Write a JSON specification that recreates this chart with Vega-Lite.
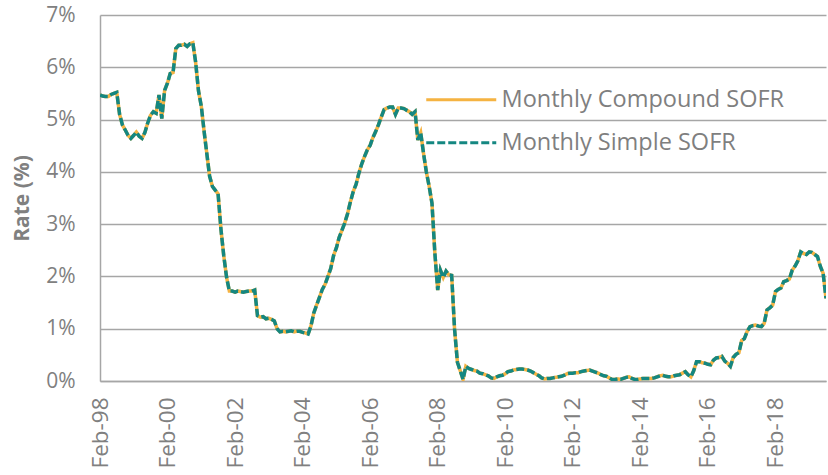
{
  "$schema": "https://vega.github.io/schema/vega-lite/v6.json",
  "width": 726,
  "height": 366,
  "autosize": {"type": "none"},
  "padding": {"left": 100, "top": 15, "right": 2, "bottom": 94},
  "background": "white",
  "config": {
    "font": "Open Sans",
    "view": {"stroke": null},
    "axis": {"labelFont": "Open Sans", "titleFont": "Open Sans"}
  },
  "data": {"values": [
    {"d":"1998-02-01","r":5.47},{"d":"1998-03-01","r":5.45},{"d":"1998-04-01","r":5.44},{"d":"1998-05-01","r":5.44},{"d":"1998-06-01","r":5.48},{"d":"1998-07-01","r":5.50},{"d":"1998-08-01","r":5.52},{"d":"1998-09-01","r":5.10},{"d":"1998-10-01","r":4.90},{"d":"1998-11-01","r":4.80},{"d":"1998-12-01","r":4.70},
    {"d":"1999-01-01","r":4.64},{"d":"1999-02-01","r":4.70},{"d":"1999-03-01","r":4.76},{"d":"1999-04-01","r":4.68},{"d":"1999-05-01","r":4.64},{"d":"1999-06-01","r":4.75},{"d":"1999-07-01","r":4.93},{"d":"1999-08-01","r":5.08},{"d":"1999-09-01","r":5.15},{"d":"1999-10-01","r":5.12},{"d":"1999-11-01","r":5.47},{"d":"1999-12-01","r":5.02},
    {"d":"2000-01-01","r":5.56},{"d":"2000-02-01","r":5.70},{"d":"2000-03-01","r":5.88},{"d":"2000-04-01","r":5.90},{"d":"2000-05-01","r":6.36},{"d":"2000-06-01","r":6.42},{"d":"2000-07-01","r":6.42},{"d":"2000-08-01","r":6.44},{"d":"2000-09-01","r":6.40},{"d":"2000-10-01","r":6.45},{"d":"2000-11-01","r":6.47},{"d":"2000-12-01","r":6.10},
    {"d":"2001-01-01","r":5.55},{"d":"2001-02-01","r":5.25},{"d":"2001-03-01","r":4.80},{"d":"2001-04-01","r":4.35},{"d":"2001-05-01","r":3.92},{"d":"2001-06-01","r":3.72},{"d":"2001-07-01","r":3.65},{"d":"2001-08-01","r":3.58},{"d":"2001-09-01","r":2.90},{"d":"2001-10-01","r":2.40},{"d":"2001-11-01","r":1.98},{"d":"2001-12-01","r":1.72},
    {"d":"2002-01-01","r":1.72},{"d":"2002-02-01","r":1.70},{"d":"2002-03-01","r":1.72},{"d":"2002-04-01","r":1.71},{"d":"2002-05-01","r":1.70},{"d":"2002-06-01","r":1.71},{"d":"2002-07-01","r":1.72},{"d":"2002-08-01","r":1.72},{"d":"2002-09-01","r":1.74},{"d":"2002-10-01","r":1.25},{"d":"2002-11-01","r":1.22},{"d":"2002-12-01","r":1.23},
    {"d":"2003-01-01","r":1.19},{"d":"2003-02-01","r":1.20},{"d":"2003-03-01","r":1.18},{"d":"2003-04-01","r":1.15},{"d":"2003-05-01","r":1.00},{"d":"2003-06-01","r":0.94},{"d":"2003-07-01","r":0.95},{"d":"2003-08-01","r":0.94},{"d":"2003-09-01","r":0.95},{"d":"2003-10-01","r":0.96},{"d":"2003-11-01","r":0.94},{"d":"2003-12-01","r":0.95},
    {"d":"2004-01-01","r":0.95},{"d":"2004-02-01","r":0.93},{"d":"2004-03-01","r":0.92},{"d":"2004-04-01","r":0.90},{"d":"2004-05-01","r":1.05},{"d":"2004-06-01","r":1.30},{"d":"2004-07-01","r":1.45},{"d":"2004-08-01","r":1.60},{"d":"2004-09-01","r":1.75},{"d":"2004-10-01","r":1.85},{"d":"2004-11-01","r":2.00},{"d":"2004-12-01","r":2.15},
    {"d":"2005-01-01","r":2.40},{"d":"2005-02-01","r":2.55},{"d":"2005-03-01","r":2.74},{"d":"2005-04-01","r":2.88},{"d":"2005-05-01","r":3.02},{"d":"2005-06-01","r":3.20},{"d":"2005-07-01","r":3.42},{"d":"2005-08-01","r":3.62},{"d":"2005-09-01","r":3.76},{"d":"2005-10-01","r":3.97},{"d":"2005-11-01","r":4.15},{"d":"2005-12-01","r":4.29},
    {"d":"2006-01-01","r":4.42},{"d":"2006-02-01","r":4.51},{"d":"2006-03-01","r":4.65},{"d":"2006-04-01","r":4.77},{"d":"2006-05-01","r":4.90},{"d":"2006-06-01","r":5.05},{"d":"2006-07-01","r":5.19},{"d":"2006-08-01","r":5.22},{"d":"2006-09-01","r":5.24},{"d":"2006-10-01","r":5.24},{"d":"2006-11-01","r":5.10},{"d":"2006-12-01","r":5.22},
    {"d":"2007-01-01","r":5.22},{"d":"2007-02-01","r":5.21},{"d":"2007-03-01","r":5.18},{"d":"2007-04-01","r":5.15},{"d":"2007-05-01","r":5.10},{"d":"2007-06-01","r":5.15},{"d":"2007-07-01","r":4.61},{"d":"2007-08-01","r":4.75},{"d":"2007-09-01","r":4.35},{"d":"2007-10-01","r":4.00},{"d":"2007-11-01","r":3.72},{"d":"2007-12-01","r":3.40},
    {"d":"2008-01-01","r":2.45},{"d":"2008-02-01","r":1.74},{"d":"2008-03-01","r":2.12},{"d":"2008-04-01","r":1.98},{"d":"2008-05-01","r":2.10},{"d":"2008-06-01","r":2.03},{"d":"2008-07-01","r":2.02},{"d":"2008-08-01","r":1.00},{"d":"2008-09-01","r":0.36},{"d":"2008-10-01","r":0.20},{"d":"2008-11-01","r":0.03},{"d":"2008-12-01","r":0.28},
    {"d":"2009-01-01","r":0.24},{"d":"2009-02-01","r":0.22},{"d":"2009-03-01","r":0.20},{"d":"2009-04-01","r":0.19},{"d":"2009-05-01","r":0.15},{"d":"2009-06-01","r":0.14},{"d":"2009-07-01","r":0.12},{"d":"2009-08-01","r":0.10},{"d":"2009-09-01","r":0.06},{"d":"2009-10-01","r":0.05},{"d":"2009-11-01","r":0.08},{"d":"2009-12-01","r":0.10},
    {"d":"2010-01-01","r":0.11},{"d":"2010-02-01","r":0.14},{"d":"2010-03-01","r":0.18},{"d":"2010-04-01","r":0.19},{"d":"2010-05-01","r":0.21},{"d":"2010-06-01","r":0.22},{"d":"2010-07-01","r":0.23},{"d":"2010-08-01","r":0.23},{"d":"2010-09-01","r":0.22},{"d":"2010-10-01","r":0.21},{"d":"2010-11-01","r":0.19},{"d":"2010-12-01","r":0.16},
    {"d":"2011-01-01","r":0.13},{"d":"2011-02-01","r":0.10},{"d":"2011-03-01","r":0.06},{"d":"2011-04-01","r":0.04},{"d":"2011-05-01","r":0.05},{"d":"2011-06-01","r":0.05},{"d":"2011-07-01","r":0.06},{"d":"2011-08-01","r":0.07},{"d":"2011-09-01","r":0.08},{"d":"2011-10-01","r":0.09},{"d":"2011-11-01","r":0.11},{"d":"2011-12-01","r":0.14},
    {"d":"2012-01-01","r":0.15},{"d":"2012-02-01","r":0.15},{"d":"2012-03-01","r":0.16},{"d":"2012-04-01","r":0.16},{"d":"2012-05-01","r":0.18},{"d":"2012-06-01","r":0.19},{"d":"2012-07-01","r":0.20},{"d":"2012-08-01","r":0.21},{"d":"2012-09-01","r":0.19},{"d":"2012-10-01","r":0.17},{"d":"2012-11-01","r":0.15},{"d":"2012-12-01","r":0.12},
    {"d":"2013-01-01","r":0.10},{"d":"2013-02-01","r":0.09},{"d":"2013-03-01","r":0.06},{"d":"2013-04-01","r":0.03},{"d":"2013-05-01","r":0.03},{"d":"2013-06-01","r":0.04},{"d":"2013-07-01","r":0.03},{"d":"2013-08-01","r":0.05},{"d":"2013-09-01","r":0.07},{"d":"2013-10-01","r":0.08},{"d":"2013-11-01","r":0.05},{"d":"2013-12-01","r":0.03},
    {"d":"2014-01-01","r":0.03},{"d":"2014-02-01","r":0.04},{"d":"2014-03-01","r":0.05},{"d":"2014-04-01","r":0.05},{"d":"2014-05-01","r":0.05},{"d":"2014-06-01","r":0.05},{"d":"2014-07-01","r":0.06},{"d":"2014-08-01","r":0.08},{"d":"2014-09-01","r":0.10},{"d":"2014-10-01","r":0.11},{"d":"2014-11-01","r":0.09},{"d":"2014-12-01","r":0.08},
    {"d":"2015-01-01","r":0.08},{"d":"2015-02-01","r":0.10},{"d":"2015-03-01","r":0.11},{"d":"2015-04-01","r":0.12},{"d":"2015-05-01","r":0.15},{"d":"2015-06-01","r":0.18},{"d":"2015-07-01","r":0.12},{"d":"2015-08-01","r":0.08},{"d":"2015-09-01","r":0.20},{"d":"2015-10-01","r":0.37},{"d":"2015-11-01","r":0.37},{"d":"2015-12-01","r":0.35},
    {"d":"2016-01-01","r":0.34},{"d":"2016-02-01","r":0.32},{"d":"2016-03-01","r":0.31},{"d":"2016-04-01","r":0.40},{"d":"2016-05-01","r":0.44},{"d":"2016-06-01","r":0.45},{"d":"2016-07-01","r":0.47},{"d":"2016-08-01","r":0.38},{"d":"2016-09-01","r":0.34},{"d":"2016-10-01","r":0.28},{"d":"2016-11-01","r":0.45},{"d":"2016-12-01","r":0.51},
    {"d":"2017-01-01","r":0.54},{"d":"2017-02-01","r":0.78},{"d":"2017-03-01","r":0.81},{"d":"2017-04-01","r":0.95},{"d":"2017-05-01","r":1.04},{"d":"2017-06-01","r":1.06},{"d":"2017-07-01","r":1.07},{"d":"2017-08-01","r":1.05},{"d":"2017-09-01","r":1.04},{"d":"2017-10-01","r":1.10},{"d":"2017-11-01","r":1.36},{"d":"2017-12-01","r":1.40},
    {"d":"2018-01-01","r":1.45},{"d":"2018-02-01","r":1.71},{"d":"2018-03-01","r":1.75},{"d":"2018-04-01","r":1.78},{"d":"2018-05-01","r":1.90},{"d":"2018-06-01","r":1.92},{"d":"2018-07-01","r":1.95},{"d":"2018-08-01","r":2.12},{"d":"2018-09-01","r":2.20},{"d":"2018-10-01","r":2.30},{"d":"2018-11-01","r":2.47},{"d":"2018-12-01","r":2.44},
    {"d":"2019-01-01","r":2.42},{"d":"2019-02-01","r":2.47},{"d":"2019-03-01","r":2.46},{"d":"2019-04-01","r":2.42},{"d":"2019-05-01","r":2.38},{"d":"2019-06-01","r":2.19},{"d":"2019-07-01","r":2.06},{"d":"2019-08-01","r":1.58}
  ]},
  "encoding": {
    "x": {
      "field": "d", "type": "temporal",
      "scale": {"type": "utc", "domain": [{"year": 1998, "month": 2, "date": 1, "utc": true}, {"year": 2019, "month": 8, "date": 1, "utc": true}]},
      "axis": {
        "title": null,
        "values": [
          {"year": 1998, "month": 2, "date": 1, "utc": true},
          {"year": 2000, "month": 2, "date": 1, "utc": true},
          {"year": 2002, "month": 2, "date": 1, "utc": true},
          {"year": 2004, "month": 2, "date": 1, "utc": true},
          {"year": 2006, "month": 2, "date": 1, "utc": true},
          {"year": 2008, "month": 2, "date": 1, "utc": true},
          {"year": 2010, "month": 2, "date": 1, "utc": true},
          {"year": 2012, "month": 2, "date": 1, "utc": true},
          {"year": 2014, "month": 2, "date": 1, "utc": true},
          {"year": 2016, "month": 2, "date": 1, "utc": true},
          {"year": 2018, "month": 2, "date": 1, "utc": true}
        ],
        "labelExpr": "utcFormat(datum.value, '%b-%y')",
        "labelAngle": 270, "labelAlign": "right", "labelBaseline": "middle",
        "labelFontSize": 22.5, "labelColor": "#808080", "labelPadding": 16,
        "labelOverlap": false, "labelFlush": false,
        "ticks": false, "tickSize": 0, "grid": false,
        "domain": true, "domainColor": "#a6a6a6", "domainWidth": 1.5
      }
    },
    "y": {
      "field": "r", "type": "quantitative",
      "scale": {"domain": [0, 7], "nice": false},
      "axis": {
        "title": "Rate (%)",
        "titleFontSize": 21, "titleFontWeight": "bold", "titleColor": "#808080",
        "titleAngle": 270, "titleAlign": "center", "titleBaseline": "middle",
        "titleX": -78, "titleY": 183,
        "values": [0, 1, 2, 3, 4, 5, 6, 7],
        "labelExpr": "datum.value + '%'",
        "labelFontSize": 21, "labelColor": "#808080", "labelPadding": 25,
        "ticks": false, "tickSize": 0,
        "grid": true, "gridColor": "#a6a6a6", "gridWidth": 1.5,
        "domain": true, "domainColor": "#a6a6a6", "domainWidth": 1.5
      }
    },
    "color": {
      "scale": {"domain": ["Monthly Compound SOFR", "Monthly Simple SOFR"], "range": ["#F5B342", "#148781"]},
      "legend": {
        "orient": "none", "legendX": 349.5, "legendY": 73, "title": null, "padding": 0,
        "symbolType": "M -5 0 H 5", "symbolSize": 196, "symbolStrokeWidth": 3,
        "labelFontSize": 23.5, "labelColor": "#7f7f7f", "labelFont": "Open Sans",
        "labelOffset": 28.5, "rowPadding": 18, "labelLimit": 0
      }
    },
    "strokeDash": {
      "scale": {"domain": ["Monthly Compound SOFR", "Monthly Simple SOFR"], "range": [[1, 0], [8, 3]]},
      "legend": {
        "orient": "none", "legendX": 349.5, "legendY": 73, "title": null, "padding": 0,
        "symbolType": "M -5 0 H 5", "symbolSize": 196, "symbolStrokeWidth": 3,
        "labelFontSize": 23.5, "labelColor": "#7f7f7f", "labelFont": "Open Sans",
        "labelOffset": 28.5, "rowPadding": 18, "labelLimit": 0
      }
    }
  },
  "layer": [
    {
      "mark": {"type": "line", "strokeWidth": 3.5, "clip": true},
      "encoding": {
        "color": {"datum": "Monthly Compound SOFR"},
        "strokeDash": {"datum": "Monthly Compound SOFR"}
      }
    },
    {
      "mark": {"type": "line", "strokeWidth": 3.5, "clip": true},
      "encoding": {
        "color": {"datum": "Monthly Simple SOFR"},
        "strokeDash": {"datum": "Monthly Simple SOFR"}
      }
    }
  ]
}
